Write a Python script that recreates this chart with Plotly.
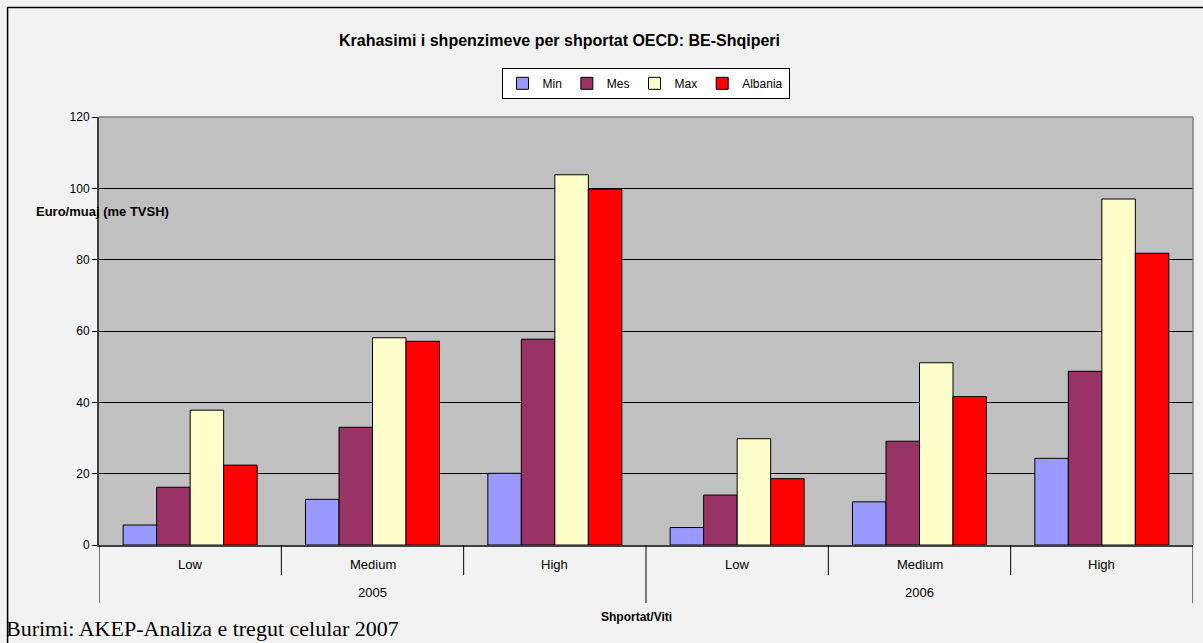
import plotly.graph_objects as go

# ---- data ----
years = ["2005", "2006"]
baskets = ["Low", "Medium", "High"]
series_names = ["Min", "Mes", "Max", "Albania"]
min_vals = [5.6, 12.8, 20.1, 4.9, 12.1, 24.3]
mes_vals = [16.2, 33.0, 57.7, 14.0, 29.1, 48.7]
max_vals = [37.8, 58.1, 103.8, 29.8, 51.1, 97.0]
alb_vals = [22.4, 57.1, 99.8, 18.6, 41.6, 81.8]
series_colors = ["#9999FF", "#993366", "#FFFFCC", "#FF0000"]

title_text = "Krahasimi i shpenzimeve per shportat OECD: BE-Shqiperi"
y_title = "Euro/muaj (me TVSH)"
x_title = "Shportat/Viti"
source_text = "Burimi: AKEP-Analiza e tregut celular 2007"

# ---- layout geometry (pixels) ----
W, H = 1203, 643
L, R, T, B = 98.5, 1193.5, 116.7, 545.0
PW, PH = R - L, B - T


def px(xp):
    return (xp - L) / PW


def py(yp):
    return (B - yp) / PH


FONT = "Liberation Sans, Arial, sans-serif"

n_cat = len(years) * len(baskets)
xpos = list(range(n_cat))

fig = go.Figure()
for name, vals, col in zip(series_names, [min_vals, mes_vals, max_vals, alb_vals], series_colors):
    fig.add_trace(go.Bar(
        x=xpos, y=vals, name=name,
        marker=dict(color=col, line=dict(color="black", width=1)),
    ))

annotations = []
shapes = []

# basket labels and dividers
for i in range(n_cat):
    annotations.append(dict(x=i, y=py(565), xref="x", yref="paper", text=baskets[i % len(baskets)],
                            showarrow=False, font=dict(family=FONT, size=13, color="#000000"),
                            xanchor="center", yanchor="middle"))
for j, yr in enumerate(years):
    c = j * len(baskets) + (len(baskets) - 1) / 2
    annotations.append(dict(x=c, y=py(593), xref="x", yref="paper", text=yr, showarrow=False,
                            font=dict(family=FONT, size=13, color="#000000"),
                            xanchor="center", yanchor="middle"))
for k in range(n_cat + 1):
    edge = k - 0.5
    outer = (k % len(baskets) == 0)
    shapes.append(dict(type="line", xref="x", yref="paper", x0=edge, x1=edge,
                       y0=0, y1=py(603 if outer else 575),
                       line=dict(color="#000000", width=1)))

# titles
annotations.append(dict(x=px(559), y=py(40.5), xref="paper", yref="paper", text="<b>" + title_text + "</b>",
                        showarrow=False, font=dict(family=FONT, size=16, color="#000000"),
                        xanchor="center", yanchor="middle"))
annotations.append(dict(x=px(33), y=py(211.5), xref="paper", yref="paper", text="<b>" + y_title + "</b>",
                        showarrow=False, font=dict(family=FONT, size=13, color="#000000"),
                        xanchor="left", yanchor="middle"))
annotations.append(dict(x=px(636), y=py(617), xref="paper", yref="paper", text="<b>" + x_title + "</b>",
                        showarrow=False, font=dict(family=FONT, size=12, color="#000000"),
                        xanchor="center", yanchor="middle"))
annotations.append(dict(x=px(3), y=py(643), xref="paper", yref="paper", text=source_text,
                        showarrow=False, font=dict(family="Liberation Serif, Times New Roman, serif", size=22, color="#000000"),
                        xanchor="left", yanchor="bottom"))

# plot border (top / right) and outer frame
shapes.append(dict(type="line", xref="paper", yref="paper", x0=0, x1=1, y0=1, y1=1,
                   line=dict(color="#808080", width=1.5)))
shapes.append(dict(type="line", xref="paper", yref="paper", x0=1, x1=1, y0=0, y1=1,
                   line=dict(color="#808080", width=1.5)))
shapes.append(dict(type="rect", xref="paper", yref="paper", x0=px(7), x1=px(1220), y0=py(670), y1=py(7),
                   line=dict(color="#000000", width=1.5), layer="below"))

fig.update_layout(
    width=W, height=H,
    margin=dict(l=L, r=W - R, t=T, b=H - B, pad=0),
    paper_bgcolor="#F2F2F2",
    plot_bgcolor="#C0C0C0",
    barmode="group",
    bargap=0.265,
    bargroupgap=0,
    showlegend=True,
    legend=dict(orientation="h", x=px(645.5), y=py(83), xanchor="center", yanchor="middle",
                bgcolor="#FFFFFF", bordercolor="#000000", borderwidth=1,
                font=dict(family=FONT, size=12, color="#000000"),
                itemwidth=30, tracegroupgap=0),
    annotations=annotations,
    shapes=shapes,
    font=dict(family=FONT, size=12, color="#000000"),
)
fig.update_xaxes(range=[-0.5, n_cat - 0.5], showticklabels=False, showgrid=False, zeroline=False,
                 showline=True, linecolor="#404040", linewidth=2, ticks="")
fig.update_yaxes(range=[0, 120], tickmode="linear", tick0=0, dtick=20,
                 showgrid=True, gridcolor="#000000", gridwidth=1, zeroline=False,
                 showline=True, linecolor="#404040", linewidth=2,
                 ticks="outside", ticklen=5, tickcolor="#000000",
                 tickfont=dict(family=FONT, size=12, color="#000000"))

fig.write_html("out.html", config={"displayModeBar": False},
               post_script="document.body.style.margin='0';document.body.style.padding='0';")
